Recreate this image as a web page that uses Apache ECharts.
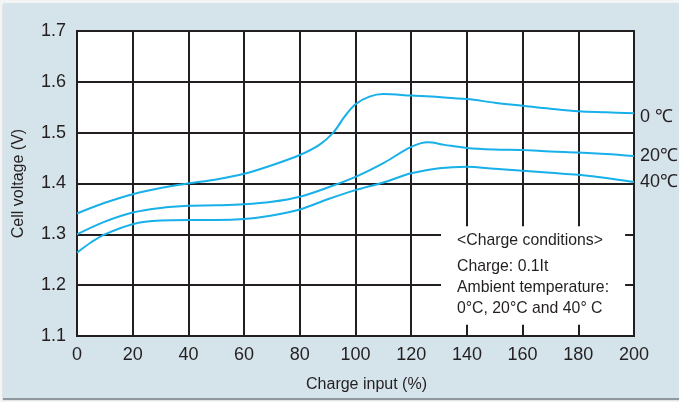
<!DOCTYPE html>
<html>
<head>
<meta charset="utf-8">
<script src="https://cdn.jsdelivr.net/npm/echarts@6/dist/echarts.min.js"></script>
<style>
html,body{margin:0;padding:0;background:#f2f4f6;}
#panel{position:absolute;left:3px;top:3px;width:676px;height:395px;background:#d5e3eb;box-shadow:0 2px 1px #8f989d;}
#c{position:absolute;left:0;top:0;width:679px;height:402px;}
</style>
</head>
<body>
<div id="panel"></div>
<div id="c"></div>
<script>
// Charge input (%) and cell voltage (V) for each ambient temperature
const input0 = [0,10,20,30,40,50,60,70,80,87,92,96,100,105,110,120,130,140,150,160,170,180,190,200];
const volt0  = [1.341,1.362,1.379,1.391,1.400,1.408,1.419,1.436,1.456,1.476,1.500,1.531,1.556,1.571,1.576,1.573,1.570,1.566,1.559,1.553,1.547,1.542,1.540,1.538];

const input20 = [0,10,20,30,40,50,60,70,80,90,100,110,120,126,132,140,150,160,170,180,190,200];
const volt20  = [1.300,1.325,1.343,1.352,1.356,1.357,1.359,1.364,1.374,1.392,1.413,1.440,1.472,1.481,1.476,1.470,1.467,1.466,1.463,1.461,1.458,1.454];

const input40 = [0,5,10,20,30,40,50,60,70,80,90,100,110,120,130,140,150,160,170,180,190,200];
const volt40  = [1.264,1.284,1.300,1.320,1.327,1.328,1.328,1.330,1.337,1.349,1.369,1.387,1.402,1.420,1.430,1.433,1.429,1.425,1.421,1.417,1.411,1.403];

const seriesNames = ['0 \u2103', '20\u2103', '40\u2103'];
const xTicks = [0,20,40,60,80,100,120,140,160,180,200];
const yTicks = [1.1,1.2,1.3,1.4,1.5,1.6,1.7];

const noteTitle = '<Charge conditions>';
const noteLines = ['Charge: 0.1It', 'Ambient temperature:', '0\u00b0C, 20\u00b0C and 40\u00b0 C'];
// annotation box extent in data units
const noteBox = [[130.7, 1.122], [196.8, 1.316]];

const FONT = '"Liberation Sans", Arial, Helvetica, sans-serif';
const INK = '#231f20';
const LINE = '#17b0e8';

function zip(xs, ys){ return xs.map((x,i)=>[x, ys[i]]); }

const chart = echarts.init(document.getElementById('c'));
const mkSeries = (name, data, extra) => Object.assign({
  name, type:'line', data, smooth:0.35, symbol:'none',
  lineStyle:{color:LINE, width:2},
  endLabel:{show:true, formatter:'{a}', color:INK, fontSize:18, fontFamily:FONT, distance:6},
  z:5
}, extra||{});

const noteText = (txt, y) => ({type:'text', x:457, y:y, scaleX:0.93, z:10,
  style:{text:txt, fill:INK, font:'17px '+FONT, verticalAlign:'middle', align:'left'}});

chart.setOption({
  animation:false,
  grid:{left:77, right:45, top:31, bottom:66, show:true, backgroundColor:'#ffffff', borderColor:INK, borderWidth:2},
  xAxis:{type:'value', min:xTicks[0], max:xTicks[xTicks.length-1], interval:20,
    name:'Charge input (%)', nameLocation:'middle', nameGap:41,
    nameTextStyle:{color:INK, fontSize:16, fontFamily:FONT, padding:[0,0,0,22]},
    axisLine:{show:true, lineStyle:{color:INK, width:2}}, axisTick:{show:false},
    axisLabel:{color:INK, fontSize:18, fontFamily:FONT, margin:10},
    splitLine:{show:true, lineStyle:{color:INK, width:2}}},
  yAxis:{type:'value', min:yTicks[0], max:yTicks[yTicks.length-1], interval:0.1,
    name:'Cell voltage (V)', nameLocation:'middle', nameGap:50,
    nameTextStyle:{color:INK, fontSize:16, fontFamily:FONT},
    axisLine:{show:true, lineStyle:{color:INK, width:2}}, axisTick:{show:false},
    axisLabel:{color:INK, fontSize:18, fontFamily:FONT, margin:11, formatter:v=>v.toFixed(1)},
    splitLine:{show:true, lineStyle:{color:INK, width:2}}},
  series:[
    mkSeries(seriesNames[0], zip(input0, volt0), {
      endLabel:{show:true, formatter:'{a}', color:INK, fontSize:18, fontFamily:FONT, distance:6, offset:[0,4]},
      markArea:{silent:true, itemStyle:{color:'#ffffff', opacity:1}, data:[[{coord:noteBox[0]},{coord:noteBox[1]}]]}
    }),
    mkSeries(seriesNames[1], zip(input20, volt20)),
    mkSeries(seriesNames[2], zip(input40, volt40))
  ],
  graphic:[
    noteText(noteTitle, 240),
    noteText(noteLines[0], 266),
    noteText(noteLines[1], 287),
    noteText(noteLines[2], 308)
  ]
});
</script>
</body>
</html>
